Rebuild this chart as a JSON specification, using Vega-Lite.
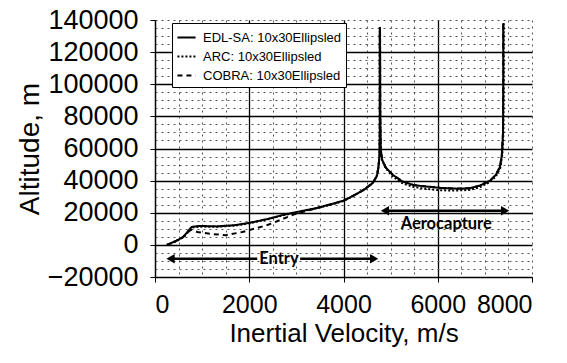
{
  "$schema": "https://vega.github.io/schema/vega-lite/v6.json",
  "width": 377,
  "height": 257,
  "autosize": {"type": "none"},
  "padding": {"left": 155, "top": 20, "right": 35, "bottom": 86},
  "background": "white",
  "config": {
    "view": {"stroke": null},
    "font": "Liberation Sans",
    "axis": {"labelFont": "Liberation Sans", "titleFont": "Liberation Sans", "labelColor": "black", "titleColor": "black", "titleFontWeight": "normal", "domainColor": "black", "tickColor": "black", "labelOverlap": false}
  },
  "datasets": {
    "traj": [
      {"s": "EDL-SA: 10x30Ellipsled", "o": 1, "v": 7390, "h": 138000},
      {"s": "EDL-SA: 10x30Ellipsled", "o": 2, "v": 7390, "h": 100000},
      {"s": "EDL-SA: 10x30Ellipsled", "o": 3, "v": 7385, "h": 70000},
      {"s": "EDL-SA: 10x30Ellipsled", "o": 4, "v": 7360, "h": 56000},
      {"s": "EDL-SA: 10x30Ellipsled", "o": 5, "v": 7320, "h": 48500},
      {"s": "EDL-SA: 10x30Ellipsled", "o": 6, "v": 7230, "h": 43500},
      {"s": "EDL-SA: 10x30Ellipsled", "o": 7, "v": 7110, "h": 40000},
      {"s": "EDL-SA: 10x30Ellipsled", "o": 8, "v": 6900, "h": 37000},
      {"s": "EDL-SA: 10x30Ellipsled", "o": 9, "v": 6690, "h": 35300},
      {"s": "EDL-SA: 10x30Ellipsled", "o": 10, "v": 6400, "h": 35000},
      {"s": "EDL-SA: 10x30Ellipsled", "o": 11, "v": 6050, "h": 35500},
      {"s": "EDL-SA: 10x30Ellipsled", "o": 12, "v": 5700, "h": 36500},
      {"s": "EDL-SA: 10x30Ellipsled", "o": 13, "v": 5480, "h": 37300},
      {"s": "EDL-SA: 10x30Ellipsled", "o": 14, "v": 5250, "h": 39500},
      {"s": "EDL-SA: 10x30Ellipsled", "o": 15, "v": 5050, "h": 43500},
      {"s": "EDL-SA: 10x30Ellipsled", "o": 16, "v": 4900, "h": 48000},
      {"s": "EDL-SA: 10x30Ellipsled", "o": 17, "v": 4820, "h": 53000},
      {"s": "EDL-SA: 10x30Ellipsled", "o": 18, "v": 4790, "h": 60000},
      {"s": "EDL-SA: 10x30Ellipsled", "o": 19, "v": 4780, "h": 80000},
      {"s": "EDL-SA: 10x30Ellipsled", "o": 20, "v": 4775, "h": 135000},
      {"s": "EDL-SA: 10x30Ellipsled", "o": 21, "v": 4770, "h": 135000},
      {"s": "EDL-SA: 10x30Ellipsled", "o": 22, "v": 4770, "h": 70000},
      {"s": "EDL-SA: 10x30Ellipsled", "o": 23, "v": 4765, "h": 56000},
      {"s": "EDL-SA: 10x30Ellipsled", "o": 24, "v": 4740, "h": 48000},
      {"s": "EDL-SA: 10x30Ellipsled", "o": 25, "v": 4710, "h": 43000},
      {"s": "EDL-SA: 10x30Ellipsled", "o": 26, "v": 4620, "h": 38500},
      {"s": "EDL-SA: 10x30Ellipsled", "o": 27, "v": 4420, "h": 34000},
      {"s": "EDL-SA: 10x30Ellipsled", "o": 28, "v": 4200, "h": 30500},
      {"s": "EDL-SA: 10x30Ellipsled", "o": 29, "v": 4000, "h": 27500},
      {"s": "EDL-SA: 10x30Ellipsled", "o": 30, "v": 3700, "h": 25000},
      {"s": "EDL-SA: 10x30Ellipsled", "o": 31, "v": 3440, "h": 23000},
      {"s": "EDL-SA: 10x30Ellipsled", "o": 32, "v": 3100, "h": 21000},
      {"s": "EDL-SA: 10x30Ellipsled", "o": 33, "v": 2720, "h": 18700},
      {"s": "EDL-SA: 10x30Ellipsled", "o": 34, "v": 2400, "h": 16200},
      {"s": "EDL-SA: 10x30Ellipsled", "o": 35, "v": 2020, "h": 13800},
      {"s": "EDL-SA: 10x30Ellipsled", "o": 36, "v": 1700, "h": 12300},
      {"s": "EDL-SA: 10x30Ellipsled", "o": 37, "v": 1300, "h": 11500},
      {"s": "EDL-SA: 10x30Ellipsled", "o": 38, "v": 950, "h": 11800},
      {"s": "EDL-SA: 10x30Ellipsled", "o": 39, "v": 780, "h": 11200},
      {"s": "EDL-SA: 10x30Ellipsled", "o": 40, "v": 700, "h": 8500},
      {"s": "EDL-SA: 10x30Ellipsled", "o": 41, "v": 600, "h": 5000},
      {"s": "EDL-SA: 10x30Ellipsled", "o": 42, "v": 450, "h": 2500},
      {"s": "EDL-SA: 10x30Ellipsled", "o": 43, "v": 250, "h": 0},

      {"s": "ARC: 10x30Ellipsled", "o": 1, "v": 7400, "h": 138000},
      {"s": "ARC: 10x30Ellipsled", "o": 2, "v": 7400, "h": 100000},
      {"s": "ARC: 10x30Ellipsled", "o": 3, "v": 7395, "h": 70000},
      {"s": "ARC: 10x30Ellipsled", "o": 4, "v": 7370, "h": 56000},
      {"s": "ARC: 10x30Ellipsled", "o": 5, "v": 7330, "h": 48000},
      {"s": "ARC: 10x30Ellipsled", "o": 6, "v": 7230, "h": 42500},
      {"s": "ARC: 10x30Ellipsled", "o": 7, "v": 7100, "h": 39000},
      {"s": "ARC: 10x30Ellipsled", "o": 8, "v": 6900, "h": 36000},
      {"s": "ARC: 10x30Ellipsled", "o": 9, "v": 6690, "h": 34300},
      {"s": "ARC: 10x30Ellipsled", "o": 10, "v": 6400, "h": 33800},
      {"s": "ARC: 10x30Ellipsled", "o": 11, "v": 6050, "h": 34000},
      {"s": "ARC: 10x30Ellipsled", "o": 12, "v": 5700, "h": 35000},
      {"s": "ARC: 10x30Ellipsled", "o": 13, "v": 5450, "h": 36300},
      {"s": "ARC: 10x30Ellipsled", "o": 14, "v": 5220, "h": 38800},
      {"s": "ARC: 10x30Ellipsled", "o": 15, "v": 5030, "h": 43000},
      {"s": "ARC: 10x30Ellipsled", "o": 16, "v": 4890, "h": 48000},
      {"s": "ARC: 10x30Ellipsled", "o": 17, "v": 4815, "h": 53000},
      {"s": "ARC: 10x30Ellipsled", "o": 18, "v": 4790, "h": 60000},
      {"s": "ARC: 10x30Ellipsled", "o": 19, "v": 4780, "h": 80000},
      {"s": "ARC: 10x30Ellipsled", "o": 20, "v": 4775, "h": 134000},
      {"s": "ARC: 10x30Ellipsled", "o": 21, "v": 4770, "h": 134000},
      {"s": "ARC: 10x30Ellipsled", "o": 22, "v": 4770, "h": 70000},
      {"s": "ARC: 10x30Ellipsled", "o": 23, "v": 4765, "h": 56000},
      {"s": "ARC: 10x30Ellipsled", "o": 24, "v": 4740, "h": 48000},
      {"s": "ARC: 10x30Ellipsled", "o": 25, "v": 4700, "h": 42500},
      {"s": "ARC: 10x30Ellipsled", "o": 26, "v": 4600, "h": 38000},
      {"s": "ARC: 10x30Ellipsled", "o": 27, "v": 4400, "h": 33800},
      {"s": "ARC: 10x30Ellipsled", "o": 28, "v": 4200, "h": 30300},
      {"s": "ARC: 10x30Ellipsled", "o": 29, "v": 4000, "h": 27300},
      {"s": "ARC: 10x30Ellipsled", "o": 30, "v": 3700, "h": 24800},
      {"s": "ARC: 10x30Ellipsled", "o": 31, "v": 3440, "h": 22800},
      {"s": "ARC: 10x30Ellipsled", "o": 32, "v": 3100, "h": 20800},
      {"s": "ARC: 10x30Ellipsled", "o": 33, "v": 2720, "h": 18400},
      {"s": "ARC: 10x30Ellipsled", "o": 34, "v": 2400, "h": 16000},
      {"s": "ARC: 10x30Ellipsled", "o": 35, "v": 2020, "h": 13500},
      {"s": "ARC: 10x30Ellipsled", "o": 36, "v": 1700, "h": 12000},
      {"s": "ARC: 10x30Ellipsled", "o": 37, "v": 1300, "h": 11200},
      {"s": "ARC: 10x30Ellipsled", "o": 38, "v": 950, "h": 11300},
      {"s": "ARC: 10x30Ellipsled", "o": 39, "v": 800, "h": 10800},
      {"s": "ARC: 10x30Ellipsled", "o": 40, "v": 710, "h": 8200},
      {"s": "ARC: 10x30Ellipsled", "o": 41, "v": 610, "h": 4800},
      {"s": "ARC: 10x30Ellipsled", "o": 42, "v": 450, "h": 2200},
      {"s": "ARC: 10x30Ellipsled", "o": 43, "v": 260, "h": 0},

      {"s": "COBRA: 10x30Ellipsled", "o": 1, "v": 7390, "h": 137000},
      {"s": "COBRA: 10x30Ellipsled", "o": 2, "v": 7390, "h": 100000},
      {"s": "COBRA: 10x30Ellipsled", "o": 3, "v": 7385, "h": 70000},
      {"s": "COBRA: 10x30Ellipsled", "o": 4, "v": 7360, "h": 56000},
      {"s": "COBRA: 10x30Ellipsled", "o": 5, "v": 7320, "h": 48500},
      {"s": "COBRA: 10x30Ellipsled", "o": 6, "v": 7230, "h": 43500},
      {"s": "COBRA: 10x30Ellipsled", "o": 7, "v": 7110, "h": 40000},
      {"s": "COBRA: 10x30Ellipsled", "o": 8, "v": 6900, "h": 37000},
      {"s": "COBRA: 10x30Ellipsled", "o": 9, "v": 6690, "h": 35300},
      {"s": "COBRA: 10x30Ellipsled", "o": 10, "v": 6400, "h": 35000},
      {"s": "COBRA: 10x30Ellipsled", "o": 11, "v": 6050, "h": 35500},
      {"s": "COBRA: 10x30Ellipsled", "o": 12, "v": 5700, "h": 36500},
      {"s": "COBRA: 10x30Ellipsled", "o": 13, "v": 5480, "h": 37300},
      {"s": "COBRA: 10x30Ellipsled", "o": 14, "v": 5250, "h": 39500},
      {"s": "COBRA: 10x30Ellipsled", "o": 15, "v": 5050, "h": 43500},
      {"s": "COBRA: 10x30Ellipsled", "o": 16, "v": 4900, "h": 48000},
      {"s": "COBRA: 10x30Ellipsled", "o": 17, "v": 4820, "h": 53000},
      {"s": "COBRA: 10x30Ellipsled", "o": 18, "v": 4790, "h": 60000},
      {"s": "COBRA: 10x30Ellipsled", "o": 19, "v": 4780, "h": 80000},
      {"s": "COBRA: 10x30Ellipsled", "o": 20, "v": 4775, "h": 134000},
      {"s": "COBRA: 10x30Ellipsled", "o": 21, "v": 4770, "h": 134000},
      {"s": "COBRA: 10x30Ellipsled", "o": 22, "v": 4770, "h": 70000},
      {"s": "COBRA: 10x30Ellipsled", "o": 23, "v": 4765, "h": 56000},
      {"s": "COBRA: 10x30Ellipsled", "o": 24, "v": 4740, "h": 48000},
      {"s": "COBRA: 10x30Ellipsled", "o": 25, "v": 4710, "h": 43000},
      {"s": "COBRA: 10x30Ellipsled", "o": 26, "v": 4620, "h": 38500},
      {"s": "COBRA: 10x30Ellipsled", "o": 27, "v": 4420, "h": 34000},
      {"s": "COBRA: 10x30Ellipsled", "o": 28, "v": 4200, "h": 30500},
      {"s": "COBRA: 10x30Ellipsled", "o": 29, "v": 4000, "h": 27500},
      {"s": "COBRA: 10x30Ellipsled", "o": 30, "v": 3700, "h": 25000},
      {"s": "COBRA: 10x30Ellipsled", "o": 31, "v": 3440, "h": 23000},
      {"s": "COBRA: 10x30Ellipsled", "o": 32, "v": 3000, "h": 19500},
      {"s": "COBRA: 10x30Ellipsled", "o": 33, "v": 2700, "h": 16000},
      {"s": "COBRA: 10x30Ellipsled", "o": 34, "v": 2400, "h": 12500},
      {"s": "COBRA: 10x30Ellipsled", "o": 35, "v": 2100, "h": 10000},
      {"s": "COBRA: 10x30Ellipsled", "o": 36, "v": 1850, "h": 8000},
      {"s": "COBRA: 10x30Ellipsled", "o": 37, "v": 1500, "h": 6000},
      {"s": "COBRA: 10x30Ellipsled", "o": 38, "v": 1200, "h": 6800},
      {"s": "COBRA: 10x30Ellipsled", "o": 39, "v": 900, "h": 8000},
      {"s": "COBRA: 10x30Ellipsled", "o": 40, "v": 760, "h": 9500},
      {"s": "COBRA: 10x30Ellipsled", "o": 41, "v": 600, "h": 5000},
      {"s": "COBRA: 10x30Ellipsled", "o": 42, "v": 450, "h": 2500},
      {"s": "COBRA: 10x30Ellipsled", "o": 43, "v": 250, "h": 0}
    ],
    "arrows": [
      {"v1": 330, "v2": 2170, "h": -8700},
      {"v1": 3080, "v2": 4650, "h": -8700},
      {"v1": 4880, "v2": 7430, "h": 21200}
    ],
    "heads": [
      {"v": 330, "h": -8700, "dir": "left"},
      {"v": 4650, "h": -8700, "dir": "right"},
      {"v": 4880, "h": 21200, "dir": "left"},
      {"v": 7430, "h": 21200, "dir": "right"}
    ],
    "labels": [
      {"v": 2630, "h": -8900, "t": "Entry"},
      {"v": 6180, "h": 12800, "t": "Aerocapture"}
    ]
  },
  "resolve": {"axis": {"x": "independent", "y": "independent"}},
  "layer": [
    {
      "data": {"name": "arrows"},
      "mark": {"type": "rule", "stroke": "black", "strokeWidth": 2.5},
      "encoding": {
        "x": {"field": "v1", "type": "quantitative",
          "scale": {"domain": [0, 8000], "nice": false, "zero": false},
          "axis": {"orient": "bottom", "values": [0,500,1000,1500,2000,2500,3000,3500,4000,4500,5000,5500,6000,6500,7000,7500,8000], "grid": true, "gridColor": "#555", "gridDash": [2, 4], "gridWidth": 1, "labels": false, "ticks": false, "domain": false, "title": null}},
        "x2": {"field": "v2"},
        "y": {"field": "h", "type": "quantitative",
          "scale": {"domain": [-20000, 140000], "nice": false, "zero": false},
          "axis": {"orient": "left", "values": [-20000,-15000,-10000,-5000,0,5000,10000,15000,20000,25000,30000,35000,40000,45000,50000,55000,60000,65000,70000,75000,80000,85000,90000,95000,100000,105000,110000,115000,120000,125000,130000,135000,140000], "grid": true, "gridColor": "#555", "gridDash": [2, 4], "gridWidth": 1, "labels": false, "ticks": false, "domain": false, "title": null}}
      }
    },
    {
      "data": {"name": "traj"},
      "mark": {"type": "line", "stroke": "black", "strokeWidth": 2},
      "encoding": {
        "x": {"field": "v", "type": "quantitative",
          "axis": {"orient": "bottom", "values": [0, 2000, 4000, 6000, 8000], "format": "d", "grid": true, "gridColor": "black", "gridWidth": 1.3,
            "gridOpacity": {"condition": {"test": "datum.value == 8000", "value": 0}, "value": 1},
            "labelFontSize": 25, "labelPadding": 10, "tickSize": 5, "domainWidth": 1.2,
            "title": "Inertial Velocity, m/s", "titleFontSize": 26, "titlePadding": 3}},
        "y": {"field": "h", "type": "quantitative",
          "axis": {"orient": "left", "values": [-20000, 0, 20000, 40000, 60000, 80000, 100000, 120000, 140000], "grid": true, "gridColor": "black", "gridWidth": 1.3,
            "gridOpacity": {"condition": {"test": "datum.value == 140000", "value": 0}, "value": 1},
            "format": "d", "labelFontSize": 27, "labelPadding": 12, "tickSize": 5, "domainWidth": 1.2,
            "title": "Altitude, m", "titleFontSize": 28, "titlePadding": 3}},
        "order": {"field": "o", "type": "quantitative"},
        "detail": {"field": "s"},
        "strokeDash": {"field": "s", "type": "nominal",
          "scale": {"domain": ["EDL-SA: 10x30Ellipsled", "ARC: 10x30Ellipsled", "COBRA: 10x30Ellipsled"], "range": [[1, 0], [2, 2], [5, 4]]},
          "legend": {"title": null, "orient": "none", "legendX": 17, "legendY": 3, "fillColor": "white", "strokeColor": "black", "padding": 4,
            "symbolType": "stroke", "symbolSize": 330, "symbolStrokeWidth": 2, "symbolStrokeColor": "black",
            "labelFont": "Liberation Sans", "labelFontSize": 13, "labelColor": "black", "rowPadding": 1, "labelOffset": 6}}
      }
    },
    {
      "data": {"name": "heads"},
      "mark": {"type": "point", "filled": true, "color": "black", "size": 90, "opacity": 1},
      "encoding": {
        "x": {"field": "v", "type": "quantitative", "axis": null},
        "y": {"field": "h", "type": "quantitative", "axis": null},
        "shape": {"field": "dir", "type": "nominal", "scale": {"domain": ["left", "right"], "range": ["triangle-left", "triangle-right"]}, "legend": null}
      }
    },
    {
      "data": {"name": "labels"},
      "mark": {"type": "text", "font": "Lato", "fontWeight": "bold", "fontSize": 16.5, "color": "black", "baseline": "middle", "align": "center"},
      "encoding": {
        "x": {"field": "v", "type": "quantitative", "axis": null},
        "y": {"field": "h", "type": "quantitative", "axis": null},
        "text": {"field": "t"}
      }
    }
  ]
}
